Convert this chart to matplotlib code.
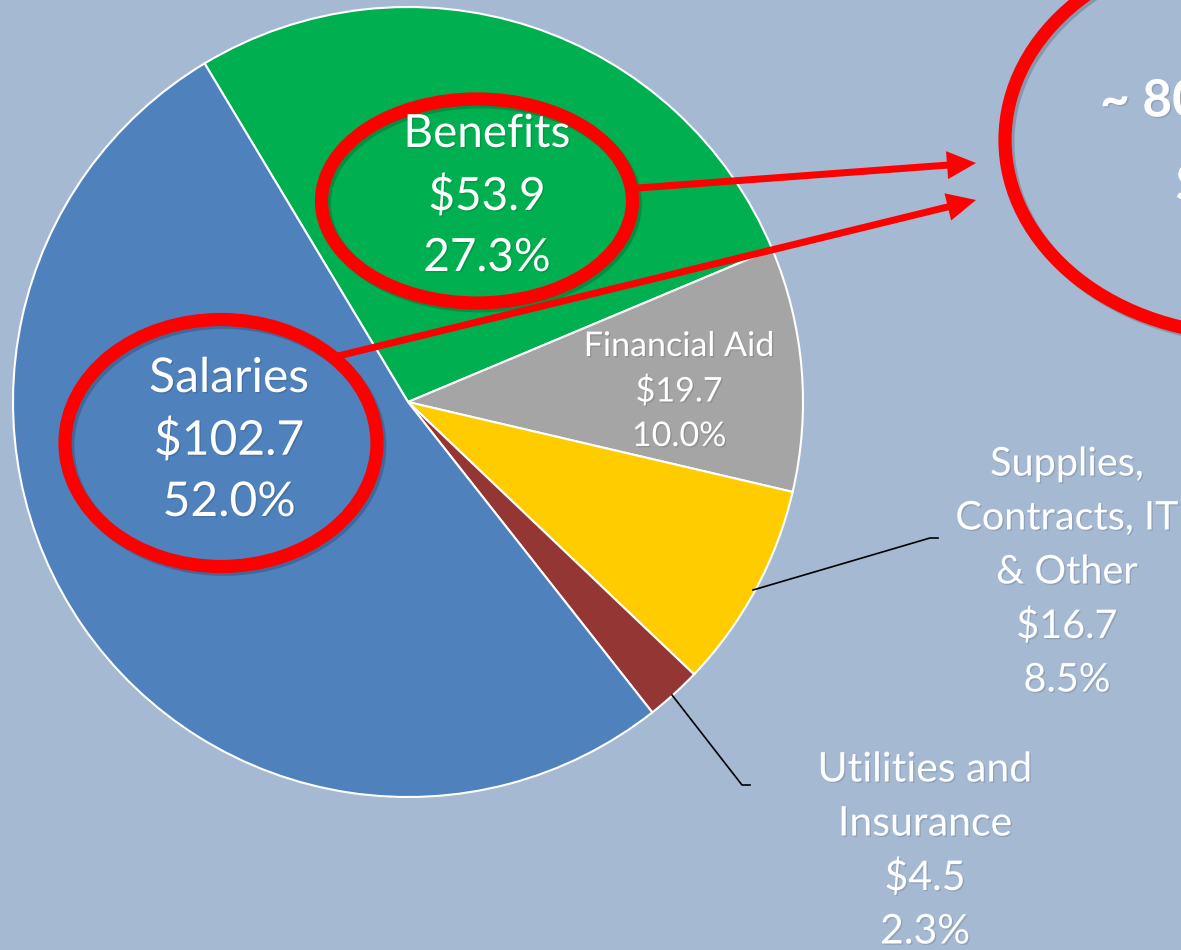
import matplotlib
matplotlib.use('Agg')
import matplotlib.pyplot as plt
import matplotlib.patches as patches
import matplotlib.patheffects as pe

# 画像サイズ(px)
W, H = 1181, 950

# データ(時計回り、Benefitsから)
names = ['Benefits', 'Financial Aid', 'Supplies,\nContracts, IT\n& Other',
         'Utilities and\nInsurance', 'Salaries']
amounts = [53.9, 19.7, 16.7, 4.5, 102.7]
colors = ['#00B050', '#A5A5A5', '#FFCC00', '#943634', '#4F81BD']
total_lines = ['~ 80%', '$156.6']

bg = '#A5B9D3'
font = 'Lato'


def py(y):
    # 上からのpx座標 -> データ座標
    return H - y


fig = plt.figure(figsize=(W / 100, H / 100), dpi=100)
fig.patch.set_facecolor(bg)
ax = fig.add_axes([0, 0, 1, 1])

# 円グラフ
cx, cy, r = 408, py(402), 395
ax.pie(amounts, colors=colors, startangle=121, counterclock=False,
       center=(cx, cy), radius=r,
       wedgeprops=dict(edgecolor='white', linewidth=1.5))
ax.set_xlim(0, W)
ax.set_ylim(0, H)
ax.set_aspect('equal')
ax.axis('off')

total = sum(amounts)
txt_fx = [pe.withSimplePatchShadow(offset=(1, -1), shadow_rgbFace='k', alpha=0.12)]

# ラベル位置(中心x, 中心y, 行間, フォントサイズ)
label_pos = [(487, 196, 62, 33), (679, 391, 45, 24.5), (1067, 572, 54, 28.5),
             (925, 851, 54, 29.5), (229, 440, 62, 34.5)]

for name, amt, (lx, ly, dy, fs) in zip(names, amounts, label_pos):
    lines = name.split('\n') + ['$%.1f' % amt, '%.1f%%' % (amt / total * 100)]
    n = len(lines)
    for i, s in enumerate(lines):
        ax.text(lx, py(ly + (i - (n - 1) / 2) * dy), s, ha='center', va='center',
                fontsize=fs, family=font, color='white', path_effects=txt_fx)

# 引き出し線
leaders = [[(753, 590), (930, 538), (938, 538)],
           [(672, 695), (742, 785), (750, 785)]]
for pts in leaders:
    ax.plot([p[0] for p in pts], [py(p[1]) for p in pts], color='black', lw=1.2)

# 赤い楕円
line_fx = [pe.SimpleLineShadow(offset=(2, -2), shadow_color='k', alpha=0.18), pe.Normal()]
ellipses = [(477, 201, 311, 204), (221, 443, 312, 247), (1250, 140, 490, 390)]
for ex, ey, ew, eh in ellipses:
    e = patches.Ellipse((ex, py(ey)), ew, eh, fill=False, ec='#FF0000', lw=9.5,
                        path_effects=line_fx)
    ax.add_patch(e)

# 矢印
arrows = [((638, 188), (976, 163)), ((330, 358), (976, 200))]
for (x0, y0), (x1, y1) in arrows:
    ax.arrow(x0, py(y0), x1 - x0, py(y1) - py(y0), width=7, head_width=28,
             head_length=29, length_includes_head=True, color='#FF0000', lw=0)

# 右上の合計テキスト(右端で切れる)
ax.text(1100, py(102), total_lines[0], ha='left', va='center', fontsize=37,
        family=font, weight='bold', color='white', path_effects=txt_fx)
ax.text(1175, py(185), total_lines[1], ha='left', va='center', fontsize=37,
        family=font, weight='bold', color='white', path_effects=txt_fx)

plt.savefig('out.png', dpi=100, facecolor=bg)
